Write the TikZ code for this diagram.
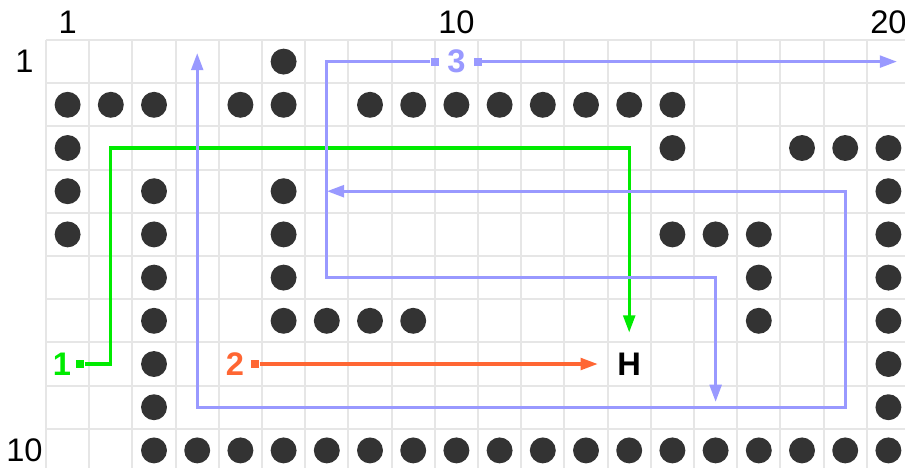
\documentclass[tikz,border=0pt]{standalone}
\usepackage{fontspec}
\setmainfont{Liberation Sans}
\usetikzlibrary{arrows.meta}
\definecolor{gridc}{RGB}{230,230,230}
\definecolor{dotc}{RGB}{51,51,51}
\definecolor{greenc}{RGB}{0,235,0}
\definecolor{orangec}{RGB}{255,102,51}
\definecolor{bluec}{RGB}{153,153,255}
\tikzset{
  gridln/.style={draw=gridc, line width=1.4pt},
  dotfill/.style={fill=dotc},
  tipc/.tip={Triangle[length=0.4cm,width=0.27cm]},
  gline/.style={draw=greenc, line width=2.2pt, -tipc},
  oline/.style={draw=orangec, line width=2.2pt, -tipc},
  bline/.style={draw=bluec, line width=2.2pt, -tipc},
  bline2/.style={draw=bluec, line width=2.2pt, tipc-tipc},
  sq/.style={rectangle, minimum size=0.19cm, inner sep=0pt},
  axlbl/.style={font=\fontsize{21.5pt}{25pt}\selectfont, inner sep=0pt, text=black},
  plbl/.style={font=\fontsize{21.5pt}{25pt}\selectfont\bfseries, inner sep=0pt},
}
\begin{document}
\begin{tikzpicture}[x=1cm,y=-1cm]
\useasboundingbox (-0.565,-0.426) rectangle (20.384,10.407);
\fill[white] (-0.565,-0.426) rectangle (20.384,10.407);
\begin{scope}
\clip (-0.565,-0.426) rectangle (20.384,10.407);
\foreach \i in {0,...,20} \draw[gridln] (\i+0.5,0.5) -- (\i+0.5,10.6);
\foreach \j in {0,...,10} \draw[gridln] (0.5,\j+0.5) -- (20.6,\j+0.5);
% dots
\foreach \c in {6} \fill[dotfill] (\c,1) circle (0.3);
\foreach \c in {1,2,3,5,6,8,9,10,11,12,13,14,15} \fill[dotfill] (\c,2) circle (0.3);
\foreach \c in {1,15,18,19,20} \fill[dotfill] (\c,3) circle (0.3);
\foreach \c in {1,3,6,20} \fill[dotfill] (\c,4) circle (0.3);
\foreach \c in {1,3,6,15,16,17,20} \fill[dotfill] (\c,5) circle (0.3);
\foreach \c in {3,6,17,20} \fill[dotfill] (\c,6) circle (0.3);
\foreach \c in {3,6,7,8,9,17,20} \fill[dotfill] (\c,7) circle (0.3);
\foreach \c in {3,20} \fill[dotfill] (\c,8) circle (0.3);
\foreach \c in {3,20} \fill[dotfill] (\c,9) circle (0.3);
\foreach \c in {3,...,20} \fill[dotfill] (\c,10) circle (0.3);
\end{scope}
% axis labels
\node[axlbl] (c1) at (1,0.08) {1};
\node[axlbl] (c10) at (10,0.08) {10};
\node[axlbl] (c20) at (20,0.08) {20};
\node[axlbl] (r1) at (0,1) {1};
\node[axlbl] (r10) at (0,10) {10};
% target
\node[plbl, minimum size=1.44cm, text=black] (h) at (14,8) {H};
% path 1
\node[plbl, text=greenc] (l1) at (0.87,8) {1};
\node[sq, fill=greenc] (s1) at (1.29,8) {};
\draw[gline] (s1) -| (2,3) -| (h);
% path 2
\node[plbl, text=orangec] (l2) at (4.875,8) {2};
\node[sq, fill=orangec] (s2) at (5.34,8) {};
\draw[oline] (s2) -- (h);
% path 3
\node[plbl, text=bluec] (l3) at (10,1) {3};
\node[sq, fill=bluec] (s3a) at (9.5,1) {};
\node[sq, fill=bluec] (s3b) at (10.5,1) {};
\coordinate (e3r) at (20.2,1);
\coordinate (e3d) at (16,8.88);
\coordinate (e3l) at (7,4);
\coordinate (e3u) at (4,0.8);
\draw[bline] (s3b) -- (e3r);
\draw[bline] (s3a) -| (7,6) -| (e3d);
\draw[bline2] (e3l) -| (19,9) -| (e3u);
\end{tikzpicture}
\end{document}
